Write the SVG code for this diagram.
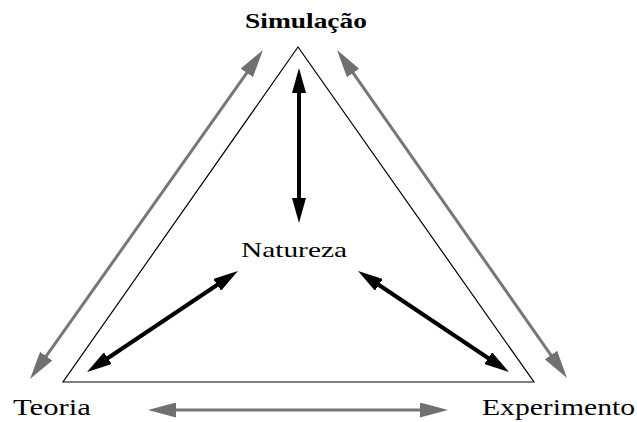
<svg xmlns="http://www.w3.org/2000/svg" width="637" height="422" viewBox="0 0 637 422">
<style>
text{font-family:"Liberation Serif","Times New Roman",serif;fill:#000}
.g{stroke:#777;stroke-width:3;fill:none}
.b{stroke:#000;stroke-width:4;fill:none}
</style>
<defs>
<marker id="gh" viewBox="0 0 28 15" markerWidth="28" markerHeight="15" refX="8" refY="7.5" orient="auto-start-reverse" markerUnits="userSpaceOnUse"><path d="M0,0 L28,7.5 L0,15 Z" fill="#707070"/></marker>
<marker id="bh" viewBox="0 0 25 14" markerWidth="25" markerHeight="14" refX="7" refY="7" orient="auto-start-reverse" markerUnits="userSpaceOnUse"><path d="M0,0 L25,7 L0,14 Z" fill="#000"/></marker>
</defs>
<rect width="637" height="422" fill="#fff"/>
<g id="triangle"><polygon points="298,47 63,382 534,382" fill="none" stroke="#000" stroke-width="1.2"/></g>
<g id="connectors">
<line class="g" x1="251.4" y1="66.3" x2="41.6" y2="362.7" marker-start="url(#gh)" marker-end="url(#gh)"/>
<line class="g" x1="348.5" y1="66.4" x2="555.5" y2="361.6" marker-start="url(#gh)" marker-end="url(#gh)"/>
<line class="g" x1="168" y1="410" x2="428" y2="410" marker-start="url(#gh)" marker-end="url(#gh)"/>
<line class="b" x1="299" y1="86" x2="299" y2="205" marker-start="url(#bh)" marker-end="url(#bh)"/>
<line class="b" x1="223" y1="281" x2="102" y2="362" marker-start="url(#bh)" marker-end="url(#bh)"/>
<line class="b" x1="373" y1="281" x2="494" y2="362" marker-start="url(#bh)" marker-end="url(#bh)"/>
</g>
<g id="simulacao"><text x="245" y="28" font-size="21" font-weight="bold" textLength="122" lengthAdjust="spacingAndGlyphs">Simulação</text></g>
<g id="natureza"><text x="241" y="257" font-size="22" textLength="106" lengthAdjust="spacingAndGlyphs">Natureza</text></g>
<g id="teoria"><text x="13" y="415" font-size="23" textLength="78" lengthAdjust="spacingAndGlyphs">Teoria</text></g>
<g id="experimento"><text x="482" y="415" font-size="23" textLength="153" lengthAdjust="spacingAndGlyphs">Experimento</text></g>
</svg>
